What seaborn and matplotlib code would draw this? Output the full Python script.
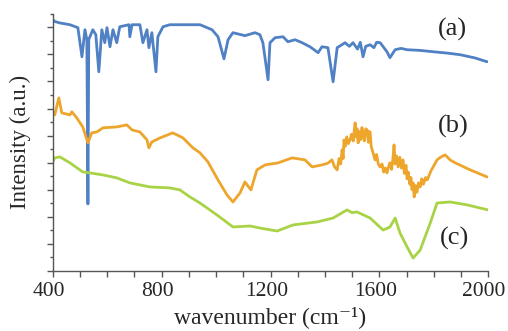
import numpy as np
import pandas as pd
import matplotlib
matplotlib.use("Agg")
import matplotlib.pyplot as plt
from matplotlib.ticker import MultipleLocator
from matplotlib.transforms import ScaledTranslation
import seaborn as sns

# ---- data ----
wn_a = [400, 407, 426, 463, 492, 507, 518, 525, 529, 532, 547, 558, 569, 580, 591, 599,
        610, 621, 635, 646, 680, 683, 691, 720, 731, 746, 753, 764, 779, 786, 805, 830,
        941, 959, 985, 1007, 1029, 1044, 1062, 1106, 1143, 1161, 1172, 1191, 1198, 1217,
        1246, 1264, 1290, 1316, 1345, 1375, 1389, 1411, 1430, 1445, 1474, 1490, 1503, 1520,
        1530, 1540, 1550, 1566, 1580, 1590, 1603, 1628, 1639, 1658, 1680, 1702, 1750, 1798,
        1850, 1897, 1950, 1996]
int_a = [18.57, 18.44, 18.33, 18.20, 17.98, 15.83, 17.83, 17.10, 4.94, 17.10, 17.83, 17.46,
         14.72, 17.83, 16.87, 17.98, 16.57, 17.83, 16.87, 18.05, 18.20, 17.31, 18.20, 18.20,
         16.87, 17.83, 16.50, 17.61, 14.72, 17.31, 18.05, 18.20, 18.20, 18.05, 17.83, 17.31,
         15.68, 17.09, 17.61, 17.39, 17.61, 17.46, 16.87, 14.13, 16.87, 17.24, 17.31, 16.94,
         17.09, 16.87, 16.57, 16.13, 16.57, 16.50, 13.98, 16.50, 16.87, 16.60, 16.87, 16.40,
         16.90, 15.83, 16.60, 16.72, 16.50, 16.90, 16.87, 16.20, 15.76, 16.35, 16.45, 16.35,
         16.30, 16.20, 16.10, 15.98, 15.75, 15.46]

wn_b = [400, 407, 422, 433, 463, 470, 488, 510, 529, 543, 562, 584, 635, 672, 691, 720, 746,
        753, 764, 794, 841, 878, 915, 941, 970, 1007, 1040, 1062, 1088, 1106, 1128, 1150,
        1180, 1228, 1279, 1327, 1353, 1389, 1410, 1426, 1435, 1445, 1452, 1458, 1463, 1467,
        1470, 1474, 1480, 1486, 1492, 1498, 1504, 1508, 1511, 1515, 1518, 1522, 1527, 1532,
        1536, 1540, 1545, 1550, 1555, 1560, 1563, 1566, 1570, 1577, 1584, 1590, 1596, 1603,
        1610, 1616, 1622, 1628, 1634, 1639, 1645, 1650, 1654, 1658, 1663, 1669, 1675, 1681,
        1687, 1692, 1698, 1702, 1706, 1712, 1716, 1720, 1724, 1728, 1733, 1738, 1744, 1750,
        1756, 1762, 1770, 1776, 1790, 1812, 1825, 1842, 1860, 1879, 1934, 1996]
int_b = [11.70, 11.53, 12.79, 11.68, 11.53, 11.76, 11.31, 10.64, 9.46, 10.20, 10.27, 10.57,
         10.64, 10.79, 10.42, 10.27, 9.68, 9.09, 9.53, 9.83, 10.20, 9.83, 9.09, 8.72, 8.05,
         6.72, 5.61, 5.09, 5.76, 6.57, 5.98, 7.46, 7.83, 7.98, 8.35, 8.20, 7.68, 7.83, 7.95,
         8.20, 7.70, 7.46, 8.30, 7.90, 8.94, 8.30, 9.68, 9.20, 9.90, 9.40, 9.68, 10.10, 9.60,
         10.40, 10.94, 9.90, 10.50, 9.46, 10.30, 9.70, 10.60, 10.20, 9.60, 10.50, 10.42, 9.50,
         10.30, 10.27, 9.20, 8.72, 8.20, 8.60, 7.90, 7.68, 7.90, 7.30, 7.60, 7.24, 7.70, 7.98,
         7.50, 8.30, 9.31, 7.90, 8.50, 7.68, 8.40, 7.60, 8.20, 7.20, 7.80, 6.80, 7.30, 6.40,
         6.90, 6.00, 6.50, 5.46, 6.30, 5.80, 6.50, 6.20, 6.80, 6.40, 6.90, 6.72, 7.40, 8.20,
         8.40, 8.57, 8.20, 7.98, 7.46, 6.94]

wn_c = [400, 407, 426, 463, 510, 536, 584, 635, 683, 757, 830, 867, 904, 941, 1003, 1062,
        1125, 1161, 1224, 1283, 1371, 1430, 1481, 1500, 1518, 1566, 1614, 1639, 1658, 1676,
        1702, 1724, 1750, 1787, 1812, 1860, 1923, 2000]
int_c = [8.05, 8.35, 8.42, 7.98, 7.31, 7.24, 7.09, 6.87, 6.50, 6.20, 6.13, 5.98, 5.46, 5.01,
         4.13, 3.24, 3.31, 3.16, 2.94, 3.39, 3.61, 3.90, 4.50, 4.30, 4.35, 3.90, 3.01, 3.24,
         3.90, 2.79, 1.76, 0.94, 1.53, 3.53, 5.01, 5.09, 4.87, 4.50]

labels = ["(a)", "(b)", "(c)"]
colors = ["#4f81c4", "#eda52c", "#a9d346"]
x_ticks = [400, 800, 1200, 1600, 2000]

df = pd.concat([
    pd.DataFrame({"wn": wn_a, "I": int_a, "s": labels[0]}),
    pd.DataFrame({"wn": wn_b, "I": int_b, "s": labels[1]}),
    pd.DataFrame({"wn": wn_c, "I": int_c, "s": labels[2]}),
])

sns.set_style("ticks")
plt.rcParams["font.family"] = ["Liberation Serif", "DejaVu Serif"]

fig = plt.figure(figsize=(5.08, 3.31), dpi=100)
ax = fig.add_axes([0.104, 0.182, 0.857, 0.776])

sns.lineplot(data=df, x="wn", y="I", hue="s", palette=dict(zip(labels, colors)),
             linewidth=2.0, legend=False, ax=ax, sort=False, estimator=None)

ax.set_xlim(400, 2000)
ax.set_ylim(0, 19)
ax.xaxis.set_minor_locator(MultipleLocator(100))
ax.yaxis.set_major_locator(MultipleLocator(2))
ax.yaxis.set_minor_locator(MultipleLocator(1))
ax.tick_params(axis="x", which="both", direction="out", length=4, width=1, color="#555555", pad=4)
ax.tick_params(axis="y", which="major", direction="out", length=4, width=1, color="#555555")
ax.tick_params(axis="y", which="minor", direction="out", length=2.5, width=1, color="#555555")
ax.set_yticklabels([])
ax.set_xticks(x_ticks)
ax.set_xticklabels([str(t) for t in x_ticks], fontsize=15.5)
shift = ScaledTranslation(-3 / 72, 0, fig.dpi_scale_trans)
for lbl in ax.get_xticklabels():
    lbl.set_transform(lbl.get_transform() + shift)
for side in ["top", "right"]:
    ax.spines[side].set_visible(False)
for side in ["left", "bottom"]:
    ax.spines[side].set_color("#555555")
    ax.spines[side].set_linewidth(1)

ax.set_xlabel("wavenumber (cm\u207b\u00b9)", fontsize=17, labelpad=4)
ax.set_ylabel("Intensity (a.u.)", fontsize=16.5, labelpad=8)

pos = [(1868, 17.83), (1871, 10.64), (1878, 2.42)]
for lab, (x, y) in zip(labels, pos):
    ax.text(x, y, lab, fontsize=19, ha="center", va="center")

fig.savefig("out.png", dpi=100)
